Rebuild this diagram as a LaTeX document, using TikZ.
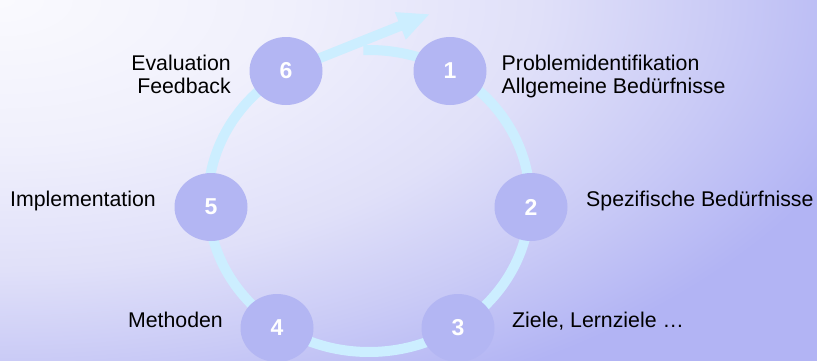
\documentclass[tikz,border=0pt]{standalone}
\usepackage{fontspec}
\setmainfont{Liberation Sans}
\usetikzlibrary{shapes.geometric,arrows.meta,calc}
\definecolor{bg0}{HTML}{FAFAFE}
\definecolor{bg1}{HTML}{F0F0FC}
\definecolor{bg2}{HTML}{E0E0F9}
\definecolor{bg3}{HTML}{CACBF6}
\definecolor{bg4}{HTML}{B2B4F4}
\definecolor{ringcol}{HTML}{CCEEFF}
\definecolor{stepcol}{HTML}{B3B6F3}
\pgfdeclareradialshading{bgrad}{\pgfpoint{0bp}{0bp}}{color(0bp)=(bg0); color(4bp)=(bg1); color(7.5bp)=(bg2); color(10bp)=(bg3); color(12.5bp)=(bg4); color(50bp)=(bg4)}
\tikzset{
  stepbox/.style={ellipse, fill=stepcol, minimum width=73pt, minimum height=68pt, inner sep=0pt,
    text=white, font=\fontsize{23}{23}\selectfont\bfseries},
  lbl/.style={inner sep=0pt, font=\fontsize{21.3}{23}\selectfont, text=black},
  ringline/.style={draw=ringcol, line width=10pt},
}
\begin{document}
\begin{tikzpicture}[x=1pt,y=1pt]
\useasboundingbox (0,0) rectangle (817,360);
\begin{scope}
\clip (0,0) rectangle (817,360);
\shade[shading=bgrad] (0,360) ellipse [x radius=1800, y radius=900];
\end{scope}
\coordinate (ctr) at (369,159);
\coordinate (rs) at ($(ctr)+(92:161pt and 151pt)$);
\coordinate (tip) at (430,346);
\draw[ringline, -{Triangle[length=32pt,width=27pt]}] (rs)
  arc[start angle=92, end angle=-239, x radius=161, y radius=151] -- (tip);
\node[stepbox] (n1) at (450,289) {1};
\node[stepbox] (n2) at (531,153) {2};
\node[stepbox] (n3) at (458,32) {3};
\node[stepbox] (n4) at (277,32) {4};
\node[stepbox] (n5) at (211,153) {5};
\node[stepbox] (n6) at (286,289) {6};
\node[lbl, anchor=base west, align=left] (l1) at (501.5,266.7) {Problemidentifikation\\Allgemeine Bedürfnisse};
\node[lbl, anchor=base west] (l2) at (586,154) {Spezifische Bedürfnisse};
\node[lbl, anchor=base west] (l3) at (512,33) {Ziele, Lernziele …};
\node[lbl, anchor=base east] (l4) at (223,33) {Methoden};
\node[lbl, anchor=base west] (l5) at (10,154) {Implementation};
\node[lbl, anchor=base east, align=right] (l6) at (231,266.7) {Evaluation\\Feedback};
\end{tikzpicture}
\end{document}
